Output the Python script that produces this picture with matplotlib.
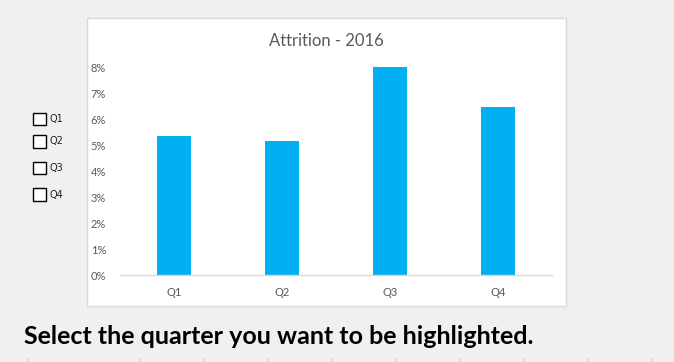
import matplotlib
matplotlib.use("Agg")
import matplotlib.pyplot as plt
from matplotlib.patches import Rectangle
from matplotlib.lines import Line2D
from matplotlib.ticker import FuncFormatter

quarters = ["Q1", "Q2", "Q3", "Q4"]
attrition = [0.0535, 0.0515, 0.080, 0.0646]
checkbox_labels = ["Q1", "Q2", "Q3", "Q4"]
title = "Attrition - 2016"
note = "Select the quarter you want to be highlighted."

W, H = 674, 362


def fx(x):
    return x / W


def fy(y):
    return 1 - y / H


fig = plt.figure(figsize=(W / 100, H / 100), dpi=100)
fig.patch.set_facecolor("#f0f0f0")

# chart container box (behind the axes)
fig.patches.append(Rectangle((fx(86.5), fy(306)), (566 - 86.5) / W, (306 - 18) / H,
                             transform=fig.transFigure, facecolor="white",
                             edgecolor="#d9d9d9", linewidth=1.0, zorder=-5))

ax = fig.add_axes([fx(120), fy(275), (552 - 120) / W, (275 - 67) / H])
ax.set_zorder(2)
ax.set_facecolor("none")
ax.bar(range(len(quarters)), attrition, width=0.31, color="#00b0f0", zorder=2)
ax.set_xlim(-0.5, len(quarters) - 0.5)
ax.set_ylim(0, 0.08)
ax.set_yticks([i / 100 for i in range(9)])
ax.yaxis.set_major_formatter(FuncFormatter(lambda v, p: f"{round(v * 100)}%"))
ax.set_xticks(range(len(quarters)))
ax.set_xticklabels(quarters)
for s in ["top", "left", "right"]:
    ax.spines[s].set_visible(False)
ax.spines["bottom"].set_color("#d9d9d9")
ax.spines["bottom"].set_linewidth(1.0)
ax.tick_params(axis="both", length=0, colors="#595959", labelsize=8)
ax.tick_params(axis="y", pad=10)
ax.tick_params(axis="x", pad=9)
for lbl in ax.get_xticklabels() + ax.get_yticklabels():
    lbl.set_fontfamily("Lato")

fig.text(fx(326), fy(41), title, ha="center", va="center", fontsize=12,
         color="#595959", family="Lato")

# form checkboxes on the left
box_y = [119, 141.5, 168, 194.5]
for lab, yc in zip(checkbox_labels, box_y):
    fig.patches.append(Rectangle((fx(33), fy(yc + 6.2)), 12.5 / W, 12.5 / H,
                                 transform=fig.transFigure, facecolor="white",
                                 edgecolor="black", linewidth=1.0))
    fig.text(fx(49.5), fy(yc), lab, ha="left", va="center", fontsize=7,
             color="#222222", family="DejaVu Sans")

fig.text(fx(23.5), fy(343.5), note, ha="left", va="baseline", fontsize=18,
         fontweight="bold", color="black", family="Lato")

# sheet cell dividers at the bottom
for x in [27.3, 139.3, 204, 267, 331, 396, 459.3, 523.3, 587.7, 651.7]:
    fig.lines.append(Line2D([fx(x), fx(x)], [fy(358), fy(362)], transform=fig.transFigure,
                            color="#d4d4d4", linewidth=1.0))

fig.savefig("out.png", dpi=100, facecolor=fig.get_facecolor())
